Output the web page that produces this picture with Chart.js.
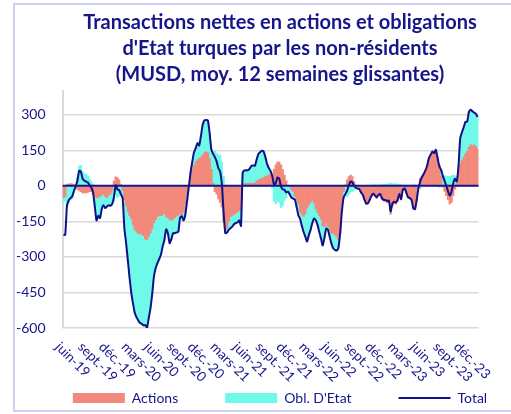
<!DOCTYPE html>
<html lang="fr">
<head>
    <meta charset="UTF-8">
    <title>Transactions nettes des non-résidents</title>
    <script src="https://cdn.jsdelivr.net/npm/chart.js"></script>
    <style>
        html, body { margin: 0; padding: 0; background: #fff; overflow: hidden; }
        body { width: 511px; height: 414px; position: relative; }
        .frame { position: absolute; left: 13px; top: 3px; width: 540px; height: 405px; border: 2px solid #cfcff5; }
        .wrap { position: absolute; left: 15px; top: 5px; width: 530px; height: 410px; }
    </style>
</head>
<body>
    <div class="frame"></div>
    <div class="wrap"><canvas id="chart"></canvas></div>

    <script>
        const NAVY = '#16168a';

        // weekly values, MUSD (12-week moving average), June 2019 -> Dec 2023
        const actions = [
            -50, -45, 5, 8, 8, 8, 5, 0, -15, -20,
            -25, -30, -30, -30, -28, -25, -25, -35, -45, -50,
            -50, -45, -40, -35, -45, -50, -40, -35, -20, 20,
            38, 35, 25, 5, -20, -59, -85, -108, -125, -140,
            -165, -186, -196, -202, -202, -205, -210, -225, -226, -215,
            -200, -180, -157, -143, -130, -126, -126, -122, -117, -129,
            -135, -143, -145, -140, -134, -128, -124, -120, -125, -110,
            -80, -45, 0, 40, 68, 86, 100, 110, 116, 120,
            130, 140, 143, 140, 115, 70, 10, -25, -35, -55,
            -70, -90, -150, -195, -180, -150, -130, -125, -120, -115,
            -110, -105, -100, 5, 8, 10, 10, 12, 10, 10,
            12, 20, 25, 28, 32, 35, 39, 42, 46, 48,
            50, 70, 88, 100, 100, 88, 68, 45, 22, 3,
            -5, -17, -24, -45, -59, -76, -110, -122, -129, -118,
            -94, -80, -70, -62, -73, -98, -112, -127, -141, -169,
            -172, -157, -172, -186, -200, -200, -207, -216, -228, -200,
            -87, -24, 4, 25, 39, 45, 39, 18, 3, -6,
            -10, -22, -32, -55, -75, -73, -60, -45, -35, -45,
            -52, -42, -40, -56, -64, -66, -72, -70, -120, -84,
            -75, -78, -66, -40, -60, -20, -12, -30, -50, -54,
            -62, -98, -102, -62, -4, 30, 42, 50, 65, 86,
            107, 125, 138, 141, 138, 121, 89, 39, -6, -24,
            -42, -59, -76, -70, -42, -14, 11, 50, 93, 107,
            121, 135, 145, 163, 173, 169, 173, 166, 155
        ];
        const obligations = [
            -18, -20, -90, -70, -60, -53, -27, -3, 36, 83,
            85, 60, 51, 48, 42, 28, 18, 7, -42, -96,
            -77, -91, -58, -47, -49, -37, -42, -49, -56, -68,
            -36, -50, -43, -40, -32, -120, -157, -207, -264, -313,
            -333, -351, -359, -366, -377, -377, -379, -363, -372, -343,
            -316, -276, -225, -204, -196, -183, -165, -134, -111, -54,
            -65, -99, -80, -60, -66, -69, -70, -15, -4, -36,
            -42, -21, -6, 15, 32, 55, 59, 70, 54, 91,
            127, 136, 135, 136, 107, 82, 125, 146, 138, 130,
            130, 100, 40, -5, -17, -36, -49, -47, -42, -42,
            -45, -41, -69, 50, 57, 56, 55, 60, 74, 76,
            73, 90, 110, 114, 116, 110, 83, 50, 29, 14,
            -10, -65, -76, -65, -70, -91, -83, -62, -50, -28,
            -31, -33, -30, -13, -31, -49, -30, -48, -66, -97,
            -141, -128, -116, -95, -65, -47, -53, -68, -81, -83,
            -46, -23, -14, -29, -44, -64, -63, -57, -34, 0,
            -21, -25, -39, -45, -36, -27, -24, -18, -11, -6,
            -4, -6, -6, -4, -1, 0, 1, 3, 3, 4,
            3, 3, 5, 4, 5, 6, 8, 8, 12, 8,
            8, 8, 7, 6, 4, 3, 1, 2, 2, 2,
            3, 4, 4, 3, -6, -12, -5, 0, 0, 0,
            10, 6, 7, -3, 14, -4, -7, 28, 40, 42,
            42, 40, 40, 42, 45, 42, 30, 32, 108, 119,
            126, 135, 126, 149, 148, 145, 136, 138, 135
        ];
        const total = [
            -208, -207, -85, -62, -52, -45, -22, -3, 21, 63,
            60, 30, 21, 18, 14, 3, -7, -28, -87, -146,
            -127, -136, -98, -82, -94, -87, -82, -84, -76, -48,
            2, -15, -18, -35, -52, -179, -242, -315, -389, -453,
            -498, -537, -555, -568, -579, -582, -589, -588, -598, -558,
            -516, -456, -382, -347, -326, -309, -291, -256, -228, -183,
            -200, -242, -225, -200, -200, -197, -194, -135, -129, -146,
            -122, -66, -6, 55, 100, 141, 159, 180, 170, 211,
            257, 276, 278, 276, 222, 152, 135, 121, 103, 75,
            60, 10, -110, -200, -197, -186, -179, -172, -162, -157,
            -155, -146, -169, 55, 65, 66, 65, 72, 84, 86,
            85, 110, 135, 142, 148, 145, 122, 92, 75, 62,
            40, 5, 12, 35, 30, -3, -15, -17, -28, -25,
            -36, -50, -54, -58, -90, -125, -140, -170, -195, -215,
            -235, -208, -186, -157, -138, -145, -165, -195, -222, -252,
            -218, -180, -186, -215, -244, -264, -270, -273, -262, -200,
            -108, -49, -35, -20, 3, 18, 15, 0, -8, -12,
            -14, -28, -38, -59, -76, -73, -59, -42, -32, -41,
            -49, -39, -35, -52, -59, -60, -64, -62, -108, -76,
            -67, -70, -59, -34, -56, -17, -11, -28, -48, -52,
            -59, -94, -98, -59, -10, 18, 37, 50, 65, 86,
            117, 131, 145, 138, 152, 117, 82, 67, 42, 21,
            0, -24, -42, -24, 11, 30, 18, 82, 201, 226,
            247, 270, 271, 312, 321, 314, 309, 304, 290
        ];

        // quarterly axis labels and the week they sit on
        const tickLabels = ['juin-19', 'sept.-19', 'déc.-19', 'mars-20', 'juin-20', 'sept.-20', 'déc.-20',
            'mars-21', 'juin-21', 'sept.-21', 'déc.-21', 'mars-22', 'juin-22', 'sept.-22', 'déc.-22',
            'mars-23', 'juin-23', 'sept.-23', 'déc.-23'];
        const tickIdx = [0, 13, 25, 38, 51, 64, 76, 89, 102, 115, 127, 140, 153, 166, 178, 191, 204, 217, 229];

        const weeks = total.map((_, i) => i);

        // navy horizontal axis through zero, drawn over the columns
        const zeroLine = {
            id: 'zeroLine',
            afterDatasetsDraw(chart) {
                const { ctx, chartArea, scales } = chart;
                const y = scales.y.getPixelForValue(0);
                ctx.save();
                ctx.strokeStyle = NAVY;
                ctx.lineWidth = 2;
                ctx.beginPath();
                ctx.moveTo(chartArea.left, y);
                ctx.lineTo(chartArea.right, y);
                ctx.stroke();
                ctx.restore();
            }
        };

        // slanted date labels, text running down-right from the tick
        const slantLabels = {
            id: 'slantLabels',
            afterDraw(chart) {
                const { ctx, chartArea, scales } = chart;
                ctx.save();
                ctx.font = '13.5px Lato';
                ctx.fillStyle = NAVY;
                ctx.textAlign = 'left';
                ctx.textBaseline = 'top';
                tickLabels.forEach((label, k) => {
                    const x = scales.x.getPixelForValue(tickIdx[k]);
                    ctx.save();
                    ctx.translate(x - 1, chartArea.bottom + 12);
                    ctx.rotate(Math.PI / 4);
                    ctx.fillText(label, 0, 0);
                    ctx.restore();
                });
                ctx.restore();
            }
        };

        new Chart(document.getElementById('chart'), {
            data: {
                labels: weeks,
                datasets: [
                    {
                        type: 'bar', label: 'Actions', data: actions, stack: 'flux', order: 1,
                        backgroundColor: '#f2897b', borderColor: '#f2897b', borderWidth: 0,
                        barPercentage: 1, categoryPercentage: 1
                    },
                    {
                        type: 'bar', label: "Obl. D'Etat", data: obligations, stack: 'flux', order: 1,
                        backgroundColor: '#6ff9e8', borderColor: '#6ff9e8', borderWidth: 0,
                        barPercentage: 1, categoryPercentage: 1
                    },
                    {
                        type: 'line', label: 'Total', data: total, stack: 'total', order: 0,
                        borderColor: '#10108a', borderWidth: 2, pointRadius: 0, tension: 0.2, fill: false
                    }
                ]
            },
            options: {
                responsive: true,
                maintainAspectRatio: false,
                animation: false,
                layout: { padding: 0 },
                scales: {
                    x: {
                        stacked: true,
                        offset: true,
                        grid: { display: false },
                        border: { display: false },
                        ticks: { display: false },
                        afterFit(s) { s.height = 16; }
                    },
                    y: {
                        stacked: true,
                        min: -600,
                        max: 400,
                        ticks: { stepSize: 150, includeBounds: false, color: NAVY, font: { family: 'Lato', size: 14 }, padding: 17 },
                        grid: { color: '#d9d9d9', lineWidth: 1.5, drawTicks: false },
                        border: { display: true, color: '#d9d9d9', width: 2 },
                        afterFit(s) { s.width = 47.6; }
                    },
                    y2: {
                        position: 'right',
                        grid: { display: false },
                        border: { display: false },
                        ticks: { display: false },
                        afterFit(s) { s.width = 66.5; }
                    }
                },
                plugins: {
                    tooltip: { enabled: false },
                    title: {
                        display: true,
                        text: ['Transactions nettes en actions et obligations',
                               "d'Etat turques par les non-résidents",
                               '(MUSD, moy. 12 semaines glissantes)'],
                        color: NAVY,
                        font: { family: 'Lato', size: 20, weight: 'bold', lineHeight: '26px' },
                        padding: { top: 5, bottom: 3 }
                    },
                    legend: {
                        position: 'bottom',
                        labels: {
                            usePointStyle: true,
                            pointStyleWidth: 52,
                            boxHeight: 10,
                            padding: 47,
                            color: NAVY,
                            font: { family: 'Lato', size: 14 },
                            sort: (a, b) => a.datasetIndex - b.datasetIndex,
                            generateLabels(chart) {
                                const items = Chart.defaults.plugins.legend.labels.generateLabels(chart);
                                items.forEach(it => { it.pointStyle = it.datasetIndex === 2 ? 'line' : 'rect'; });
                                return items;
                            }
                        }
                    }
                }
            },
            plugins: [zeroLine, slantLabels]
        });
    </script>
</body>
</html>
